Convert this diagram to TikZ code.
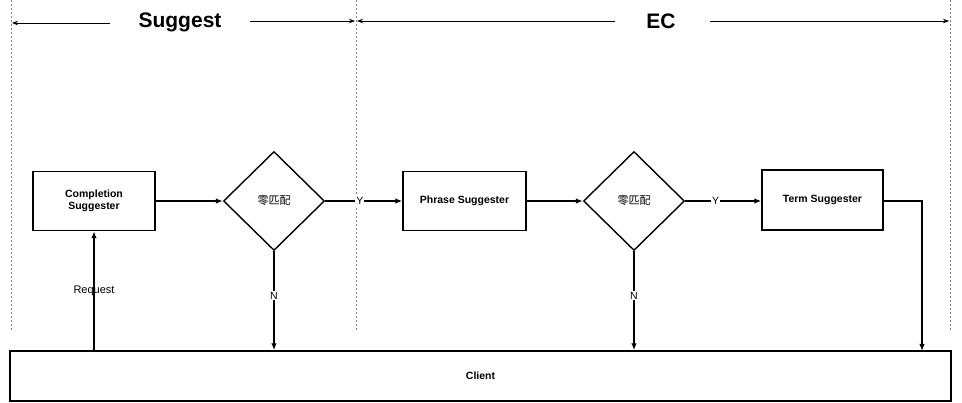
\documentclass[tikz,border=0pt]{standalone}
\usepackage{fontspec}
\setmainfont{Liberation Sans}
\newfontfamily\cjk{Noto Sans CJK SC}
\usetikzlibrary{arrows.meta,shapes.geometric}
\begin{document}
\begin{tikzpicture}[x=1pt,y=-1pt,
  box/.style={draw,line width=1.4pt,minimum width=122pt,minimum height=59pt,inner sep=0pt,align=center,font=\bfseries\fontsize{10.5}{12.5}\selectfont},
  dia/.style={draw,diamond,line width=1.4pt,minimum width=101pt,minimum height=99pt,inner sep=0pt,font=\cjk\fontsize{11}{13}\selectfont},
  conn/.style={line width=1.4pt,-{Latex[length=7pt,width=5.5pt]}},
  lab/.style={fill=white,inner sep=1pt,font=\fontsize{10.5}{12}\selectfont},
  sep/.style={gray,line width=1pt,dash pattern=on 2pt off 2pt},
  harr/.style={line width=0.8pt,-{Stealth[length=6pt,width=4.5pt]}},
  ttl/.style={font=\bfseries\fontsize{21}{24}\selectfont}]
\useasboundingbox (0,0) rectangle (962,403);
% separators
\draw[sep] (11,0) -- (11,330);
\draw[sep] (356,0) -- (356,330);
\draw[sep] (950,0) -- (950,330);
% titles
\node[ttl] (sg) at (180,22) {Suggest};
\node[ttl] (ec) at (661,21) {EC};
\draw[harr] (110,23) -- (12,23);
\draw[harr] (250,21) -- (355,21);
\draw[harr] (615,21) -- (357,21);
\draw[harr] (710,21) -- (949,21);
% nodes
\node[box] (cs) at (94,201) {Completion\\Suggester};
\node[dia] (d1) at (274,201) {零匹配};
\node[box,minimum width=123pt] (ps) at (464.5,201) {Phrase Suggester};
\node[dia] (d2) at (634,201) {零匹配};
\node[box,minimum width=121pt,minimum height=60pt] (ts) at (822.5,200) {Term Suggester};
\node[draw,line width=1.4pt,minimum width=941pt,minimum height=50pt,inner sep=0pt,font=\bfseries\fontsize{10.5}{12}\selectfont] (cl) at (480.5,376) {Client};
\coordinate (tsd) at (922,351);
% connectors
\draw[conn] (cs.east) -- (d1.west);
\draw[conn] (d1.east) -- node[lab,pos=0.45] {Y} (ps.west);
\draw[conn] (ps.east) -- (d2.west);
\draw[conn] (d2.east) -- node[lab,pos=0.4] {Y} (d2.east -| ts.west);
\draw[conn] (ts.east |- d2.east) -| (tsd);
\draw[conn] (d1.south) -- node[lab,pos=0.45] {N} (d1.south |- cl.north);
\draw[conn] (d2.south) -- node[lab,pos=0.45] {N} (d2.south |- cl.north);
\draw[conn] (cl.north -| cs.south) -- node[inner sep=0pt,font=\fontsize{11}{13}\selectfont] {Request} (cs.south);
\end{tikzpicture}
\end{document}
